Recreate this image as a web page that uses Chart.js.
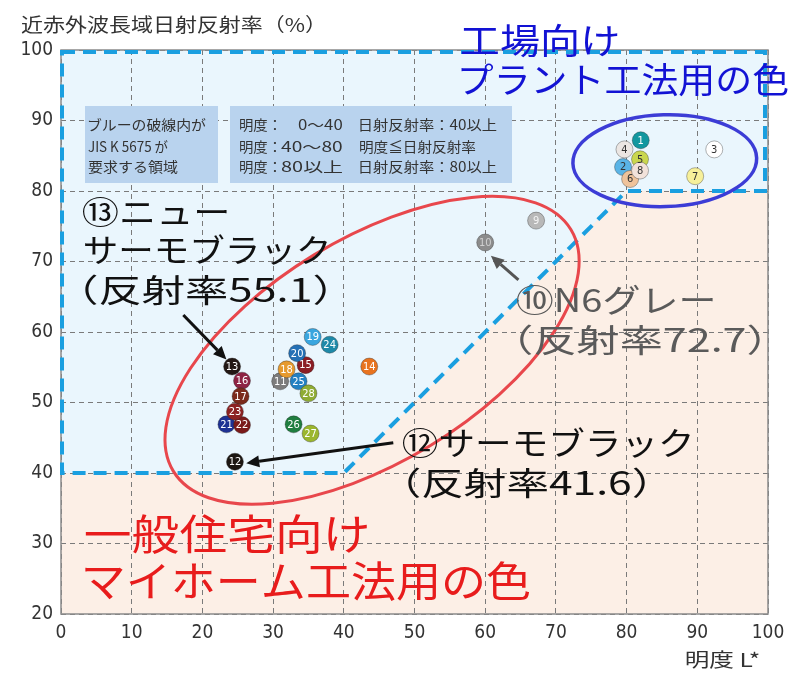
<!DOCTYPE html>
<html>
<head>
<meta charset="utf-8">
<script src="https://cdn.jsdelivr.net/npm/chart.js@4.4.1/dist/chart.umd.min.js"></script>
<style>
  html, body { margin: 0; padding: 0; background: #fff; }
  #wrap { width: 810px; height: 677px; }
</style>
</head>
<body>
<div id="wrap"><canvas id="myChart" width="810" height="677"></canvas></div>
<script>
// sample numbers and their readings (明度 L*, 近赤外波長域日射反射率 %)
const pointIds = ['1','2','3','4','5','6','7','8','9','10','11','12','13','14',
    '15','16','17','18','19','20','21','22','23','24','25','26','27','28'];
const lightness = [82.0, 79.5, 92.4, 79.7, 81.9, 80.5, 89.7, 81.9, 67.2, 60.0,
    31.0, 24.6, 24.2, 43.6, 34.6, 25.6, 25.4, 31.9, 35.6, 33.4,
    23.4, 25.6, 24.6, 38.0, 33.6, 32.9, 35.3, 35.0];
const reflectance = [87.2, 83.4, 85.9, 85.9, 84.5, 81.7, 82.1, 82.9, 75.8, 72.7,
    53.0, 41.6, 55.1, 55.1, 55.3, 53.1, 50.9, 54.7, 59.3, 57.0,
    46.9, 46.8, 48.7, 58.2, 53.0, 46.9, 45.6, 51.3];
const pointColors = ['#12979f','#5ab4e6','#ffffff','#ebe6e3','#c9d64f','#efc39b','#f7f09a','#f2e2da',
    '#b8b8b8','#8c8c8c','#7c7c7c','#1c1612','#231815','#e8731f','#8b1d24','#8e2344','#7a2a1c',
    '#e69a2e','#3aa6df','#2470b5','#1e3193','#7a1a1a','#8c2222','#1e89a8','#2380c2','#1f7d3f',
    '#9bb62e','#8fac34'];
const labelColors = ['#fff','#333','#333','#333','#333','#333','#333','#333',
    '#f4f4f4','#d0d0d0','#fff','#fff','#fff','#fff','#fff','#fff','#fff','#fff','#fff','#fff',
    '#fff','#fff','#fff','#fff','#fff','#fff','#fff','#fff'];

const xTicks = [0, 10, 20, 30, 40, 50, 60, 70, 80, 90, 100];
const yTicks = [20, 30, 40, 50, 60, 70, 80, 90, 100];

// JIS K 5675 の領域 (ブルーの破線)
const jisRegion = [[0, 100], [100, 100], [100, 80], [80, 80], [40, 40], [0, 40]];

const narrow = "'Liberation Sans Narrow', 'DejaVu Sans Condensed', sans-serif";
const jp = "'Noto Sans CJK JP', 'Noto Sans', sans-serif";

// draw text so that its ink runs from x0 to x1 (stretched like the original)
function fitText(ctx, s, x0, x1, yc, size, color) {
    ctx.save();
    ctx.font = size + 'px ' + jp;
    ctx.fillStyle = color;
    ctx.textAlign = 'left';
    ctx.textBaseline = 'middle';
    const m = ctx.measureText(s);
    const w = m.actualBoundingBoxLeft + m.actualBoundingBoxRight;
    ctx.translate(x0, yc);
    ctx.scale((x1 - x0) / w, 1);
    ctx.fillText(s, m.actualBoundingBoxLeft, 0);
    ctx.restore();
}

const overlay = {
    id: 'overlay',
    beforeDraw(chart) {
        const {ctx, chartArea: a, scales: {x, y}} = chart;
        ctx.save();
        ctx.fillStyle = '#fcefe6';
        ctx.fillRect(a.left, a.top, a.width, a.height);
        ctx.fillStyle = '#eaf6fd';
        ctx.beginPath();
        jisRegion.forEach((p, i) => {
            const px = x.getPixelForValue(p[0]), py = y.getPixelForValue(p[1]);
            if (i === 0) ctx.moveTo(px, py); else ctx.lineTo(px, py);
        });
        ctx.closePath();
        ctx.fill();
        ctx.restore();
    },
    beforeDatasetsDraw(chart) {
        const {ctx, chartArea: a, scales: {x, y}} = chart;
        ctx.save();
        ctx.strokeStyle = '#8a8a8a';
        ctx.lineWidth = 1.5;
        ctx.strokeRect(a.left, a.top, a.width, a.height);

        ctx.strokeStyle = '#1a9fe0';
        ctx.lineWidth = 4;
        ctx.setLineDash([13, 8]);
        ctx.beginPath();
        jisRegion.forEach((p, i) => {
            let px = x.getPixelForValue(p[0]), py = y.getPixelForValue(p[1]);
            px = Math.max(a.left + 1, Math.min(a.right - 3, px));
            py = Math.max(a.top + 2, py);
            if (i === 0) ctx.moveTo(px, py); else ctx.lineTo(px, py);
        });
        ctx.closePath();
        ctx.stroke();
        ctx.setLineDash([]);

        // info boxes
        ctx.fillStyle = '#b9d3ee';
        ctx.fillRect(85, 106, 133, 77);
        ctx.fillRect(230, 106, 282, 77);
        ctx.restore();

        const c = '#333';
        fitText(ctx, 'ブルーの破線内が', 88, 206, 125, 14, c);
        fitText(ctx, 'JIS K 5675 が', 88, 168, 147, 14, c);
        fitText(ctx, '要求する領域', 88, 178, 167, 14, c);
        fitText(ctx, '明度：', 240, 277, 125, 14, c);
        fitText(ctx, '明度：', 240, 277, 147, 14, c);
        fitText(ctx, '明度：', 240, 277, 167, 14, c);
        fitText(ctx, '0〜40', 298, 343, 125, 14, c);
        fitText(ctx, '40〜80', 281, 343, 147, 14, c);
        fitText(ctx, '80以上', 281, 343, 167, 14, c);
        fitText(ctx, '日射反射率：40以上', 360, 497, 125, 14, c);
        fitText(ctx, '明度≦日射反射率', 360, 476, 147, 14, c);
        fitText(ctx, '日射反射率：80以上', 360, 497, 167, 14, c);
    },
    afterDatasetsDraw(chart) {
        const {ctx, scales: {x, y}} = chart;
        const meta = chart.getDatasetMeta(0);
        ctx.save();
        ctx.font = '11px ' + narrow;
        ctx.textAlign = 'center';
        ctx.textBaseline = 'middle';
        meta.data.forEach((el, i) => {
            ctx.fillStyle = labelColors[i];
            ctx.fillText(pointIds[i], el.x, el.y + 0.5);
        });

        const unit = x.getPixelForValue(1) - x.getPixelForValue(0);
        const ellipse = (cx, cy, rx, ry, rot, color, lw) => {
            ctx.strokeStyle = color;
            ctx.lineWidth = lw;
            ctx.beginPath();
            ctx.ellipse(x.getPixelForValue(cx), y.getPixelForValue(cy), rx * unit, ry * unit, rot, 0, Math.PI * 2);
            ctx.stroke();
        };
        ellipse(44.0, 57.4, 32.9, 15.8, -0.546, '#e8474c', 3);
        ellipse(85.4, 84.3, 13.0, 6.5, -0.03, '#3c3cd6', 3.5);

        const arrow = (x0, y0, x1, y1, color) => {
            const p0 = [x.getPixelForValue(x0), y.getPixelForValue(y0)];
            const p1 = [x.getPixelForValue(x1), y.getPixelForValue(y1)];
            const ang = Math.atan2(p1[1] - p0[1], p1[0] - p0[0]);
            const hl = 13, hw = 6;
            const bx = p1[0] - hl * Math.cos(ang), by = p1[1] - hl * Math.sin(ang);
            ctx.strokeStyle = color;
            ctx.fillStyle = color;
            ctx.lineWidth = 3;
            ctx.beginPath();
            ctx.moveTo(p0[0], p0[1]);
            ctx.lineTo(bx, by);
            ctx.stroke();
            ctx.beginPath();
            ctx.moveTo(p1[0], p1[1]);
            ctx.lineTo(bx + hw * Math.sin(ang), by - hw * Math.cos(ang));
            ctx.lineTo(bx - hw * Math.sin(ang), by + hw * Math.cos(ang));
            ctx.closePath();
            ctx.fill();
        };
        arrow(17.3, 62.4, 23.4, 56.1, '#111');
        arrow(47.0, 44.3, 26.2, 41.4, '#111');
        arrow(64.7, 67.4, 60.8, 70.8, '#555');
        ctx.restore();

        fitText(ctx, '⑬ニュー', 83, 227, 212, 32, '#111');
        fitText(ctx, 'サーモブラック', 85, 327, 250, 32, '#111');
        fitText(ctx, '（反射率55.1）', 85, 326, 290, 32, '#111');
        fitText(ctx, '⑩N6グレー', 517, 713, 300, 32, '#5a5a5a');
        fitText(ctx, '（反射率72.7）', 520, 760, 340, 32, '#5a5a5a');
        fitText(ctx, '⑫サーモブラック', 403, 690, 443, 32, '#111');
        fitText(ctx, '（反射率41.6）', 408, 645, 483, 32, '#111');
        fitText(ctx, '工場向け', 461, 618, 41, 35, '#1212d4');
        fitText(ctx, 'プラント工法用の色', 461, 788, 80, 35, '#1212d4');
        fitText(ctx, '一般住宅向け', 85, 367, 534, 42, '#e81c1c');
        fitText(ctx, 'マイホーム工法用の色', 85, 530, 581, 42, '#e81c1c');

        // axis titles
        fitText(ctx, '近赤外波長域日射反射率（%）', 21, 312, 25, 19, '#333');
        fitText(ctx, '明度 L*', 686, 759, 660, 19, '#333');
    }
};

new Chart(document.getElementById('myChart'), {
    type: 'scatter',
    data: {
        datasets: [{
            data: lightness.map((v, i) => ({x: v, y: reflectance[i]})),
            backgroundColor: pointColors,
            borderColor: 'rgba(40,40,40,0.45)',
            borderWidth: 0.8,
            pointRadius: 8.5,
            pointHoverRadius: 8.5
        }]
    },
    options: {
        responsive: false,
        animation: false,
        events: [],
        layout: { padding: { top: 50, right: 42, left: 0, bottom: 0 }, autoPadding: false },
        plugins: { legend: { display: false }, tooltip: { enabled: false } },
        scales: {
            x: {
                type: 'linear', min: 0, max: 100,
                afterFit: s => { s.height = 63; },
                afterBuildTicks: s => { s.ticks = xTicks.map(v => ({value: v})); },
                ticks: { font: { size: 19, family: narrow }, color: '#333', padding: 8 },
                grid: { color: '#7a7a7a', lineWidth: 1, drawTicks: false },
                border: { display: false, dash: [5, 4] }
            },
            y: {
                type: 'linear', min: 20, max: 100,
                afterFit: s => { s.width = 61; },
                afterBuildTicks: s => { s.ticks = yTicks.map(v => ({value: v})); },
                ticks: { font: { size: 19, family: narrow }, color: '#333', padding: 8 },
                grid: { color: '#7a7a7a', lineWidth: 1, drawTicks: false },
                border: { display: false, dash: [5, 4] }
            }
        }
    },
    plugins: [overlay]
});
</script>
</body>
</html>
